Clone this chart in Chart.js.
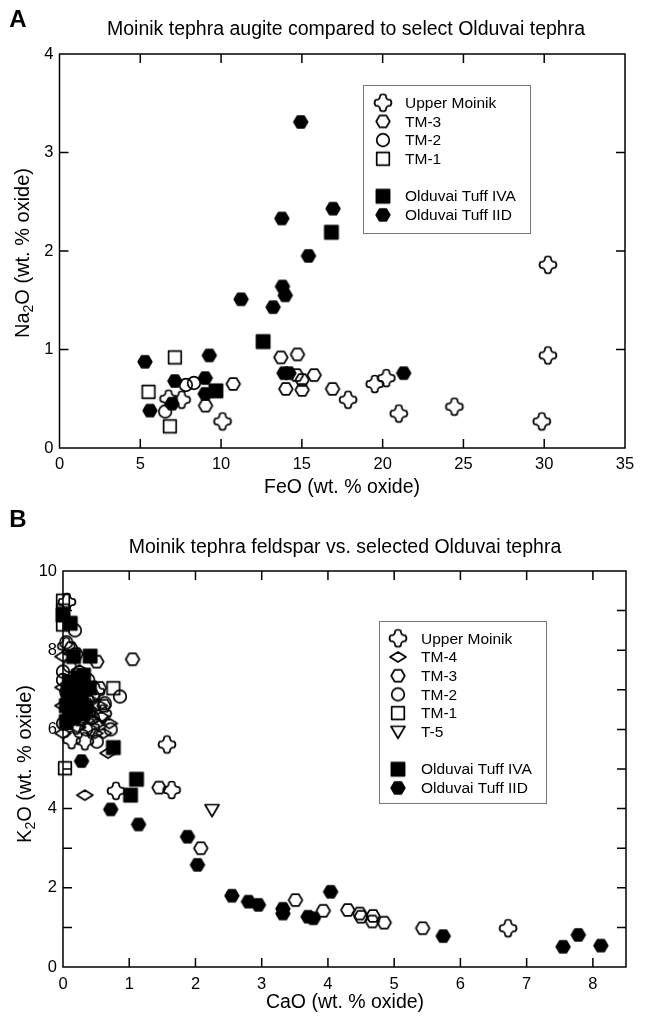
<!DOCTYPE html>
<html>
<head>
<meta charset="utf-8">
<script src="https://cdn.jsdelivr.net/npm/chart.js@4.4.1/dist/chart.umd.min.js"></script>
<style>
html, body { margin: 0; padding: 0; background: #fff; }
#wrapA { position: absolute; left: 0; top: 0; width: 645px; height: 500px; }
#wrapB { position: absolute; left: 0; top: 500px; width: 645px; height: 519px; }
</style>
</head>
<body>
<div id="wrapA"><canvas id="chartA"></canvas></div>
<div id="wrapB"><canvas id="chartB"></canvas></div>
<script>
// Panel A: augite, FeO (x) vs Na2O (y), wt. % oxide
var augUpperMoinik = [[6.75,0.5],[7.56,0.49],[10.09,0.27],[17.86,0.49],[19.51,0.65],[20.23,0.71],[21.0,0.35],[24.44,0.42],[29.85,0.27],[30.23,0.94],[30.23,1.86]];
var augTM3 = [[10.75,0.65],[9.04,0.43],[13.7,0.92],[14.73,0.95],[14.67,0.74],[15.02,0.69],[15.76,0.74],[14.01,0.6],[15.02,0.59],[16.9,0.6]];
var augTM2 = [[7.82,0.64],[8.32,0.66],[6.54,0.37]];
var augTM1 = [[7.14,0.92],[5.51,0.57],[6.83,0.22]];
var augTuffIVA = [[16.83,2.19],[12.6,1.08],[9.68,0.58]];
var augTuffIID = [[14.93,3.31],[16.93,2.43],[13.76,2.33],[15.41,1.95],[11.24,1.51],[13.8,1.64],[13.97,1.55],[13.22,1.43],[5.29,0.875],[9.27,0.94],[7.14,0.68],[9.02,0.71],[9.02,0.55],[6.96,0.45],[5.6,0.38],[13.9,0.76],[14.2,0.76],[21.3,0.76]];

// Panel B: feldspar, CaO (x) vs K2O (y), wt. % oxide
var fspUpperMoinik = [[0.06,9.22],[1.57,5.62],[1.64,4.47],[0.8,4.45],[6.72,0.98],[0.13,5.73],[0.33,5.7],[0.2,6.1],[0.42,6.05],[0.3,6.7],[0.12,7.1],[0.5,6.95],[0.05,8.1],[0.6,6.4]];
var fspTM4 = [[0.33,4.34],[0.68,5.4],[0.43,6.24],[0.58,6.32],[0.48,5.9],[0.61,5.9],[0.0,5.9],[0.0,7.84],[0.0,7.06],[0.22,6.05],[0.7,6.15],[0.35,6.5],[0.15,6.8],[0.55,6.6],[0.0,6.6],[0.25,7.5],[0.4,6.75],[0.52,6.15]];
var fspTM3 = [[1.05,7.77],[0.51,7.71],[1.45,4.53],[2.08,3.0],[3.51,1.69],[3.93,1.42],[4.3,1.44],[4.48,1.35],[4.5,1.27],[4.68,1.29],[4.67,1.15],[4.85,1.12],[5.43,0.98],[0.12,8.05],[0.3,7.35],[0.55,7.05],[0.4,6.45],[0.12,6.3],[0.62,6.6],[0.2,7.9],[0.08,6.9],[0.25,6.25],[0.45,6.85]];
var fspTM2 = [[0.18,8.5],[0.86,6.83],[0.63,6.66],[0.51,5.69],[0.0,6.15],[0.0,7.46],[0.05,8.2],[0.1,7.6],[0.3,7.1],[0.2,6.75],[0.45,6.3],[0.05,6.95],[0.72,6.0],[0.35,6.0],[0.0,7.25],[0.22,6.35],[0.38,7.25]];
var fspTM1 = [[0.0,9.25],[0.0,9.0],[0.0,8.65],[0.76,7.04],[0.03,5.02],[0.1,6.5],[0.22,7.0]];
var fspT5 = [[2.25,3.96]];
var fspTuffIVA = [[0.0,8.89],[0.11,8.68],[0.41,7.85],[0.16,7.84],[0.31,7.37],[0.76,5.54],[1.11,4.74],[1.02,4.34],[0.1,7.2],[0.2,6.9],[0.25,7.1],[0.05,6.6],[0.15,6.3],[0.35,6.55],[0.08,7.0],[0.18,6.6],[0.28,6.8],[0.05,6.2],[0.4,7.05],[0.12,6.45],[0.22,7.3],[0.3,6.4],[0.08,6.8]];
var fspTuffIID = [[0.28,5.2],[0.72,3.98],[1.14,3.6],[1.88,3.29],[2.03,2.58],[2.55,1.8],[2.8,1.65],[2.95,1.57],[3.32,1.47],[3.32,1.35],[4.04,1.9],[3.7,1.27],[3.78,1.23],[5.74,0.78],[7.55,0.51],[7.78,0.81],[8.12,0.54]];

var legendA = ['Upper Moinik', 'TM-3', 'TM-2', 'TM-1', '', 'Olduvai Tuff IVA', 'Olduvai Tuff IID'];
var legendB = ['Upper Moinik', 'TM-4', 'TM-3', 'TM-2', 'TM-1', 'T-5', '', 'Olduvai Tuff IVA', 'Olduvai Tuff IID'];

var FONT = "'Liberation Sans', Arial, Helvetica, sans-serif";

function makeMarker(kind, filled) {
  var s = 22;
  var c = document.createElement('canvas');
  c.width = s; c.height = s;
  var g = c.getContext('2d');
  g.translate(s / 2, s / 2);
  g.lineWidth = 1.7;
  g.strokeStyle = '#000';
  g.fillStyle = '#000';
  g.lineJoin = 'round';
  g.beginPath();
  if (kind == 'hex') {
    g.moveTo(-6.8, 0); g.lineTo(-3.4, -5.8); g.lineTo(3.4, -5.8);
    g.lineTo(6.8, 0); g.lineTo(3.4, 5.8); g.lineTo(-3.4, 5.8);
    g.closePath();
  } else if (kind == 'circle') {
    g.arc(0, 0, 6.3, 0, Math.PI * 2);
  } else if (kind == 'square') {
    if (filled) g.rect(-6.6, -6.6, 13.2, 13.2);
    else g.rect(-6.3, -6.3, 12.6, 12.6);
  } else if (kind == 'diamond') {
    g.moveTo(-8, 0); g.lineTo(0, -5); g.lineTo(8, 0); g.lineTo(0, 5);
    g.closePath();
  } else if (kind == 'tri') {
    g.moveTo(-7, -5.5); g.lineTo(7, -5.5); g.lineTo(0, 6.5);
    g.closePath();
  } else if (kind == 'star4') {
    var r = 8, w = 2.8;
    g.moveTo(-w, -r + 0.5);
    g.quadraticCurveTo(0, -r - 1.5, w, -r + 0.5);
    g.quadraticCurveTo(w, -w, r - 0.5, -w);
    g.quadraticCurveTo(r + 1.5, 0, r - 0.5, w);
    g.quadraticCurveTo(w, w, w, r - 0.5);
    g.quadraticCurveTo(0, r + 1.5, -w, r - 0.5);
    g.quadraticCurveTo(-w, w, -r + 0.5, w);
    g.quadraticCurveTo(-r - 1.5, 0, -r + 0.5, -w);
    g.quadraticCurveTo(-w, -w, -w, -r + 0.5);
    g.closePath();
  }
  if (filled) { g.fill(); g.stroke(); } else g.stroke();
  return c;
}

var mk = {
  star: makeMarker('star4', false),
  diamond: makeMarker('diamond', false),
  hexOpen: makeMarker('hex', false),
  circle: makeMarker('circle', false),
  square: makeMarker('square', false),
  tri: makeMarker('tri', false),
  squareFill: makeMarker('square', true),
  hexFill: makeMarker('hex', true)
};

function pts(arr) {
  return arr.map(function(p) { return { x: p[0], y: p[1] }; });
}

function ds(label, arr, img) {
  return { label: label, data: pts(arr), pointStyle: img, pointRadius: 8, pointHoverRadius: 8, clip: false };
}

function drawSubTitle(ctx, parts, cx, cy, size, rotate) {
  ctx.save();
  ctx.translate(cx, cy);
  if (rotate) ctx.rotate(-Math.PI / 2);
  var big = size + 'px ' + FONT, small = Math.round(size * 0.72) + 'px ' + FONT;
  ctx.font = big;
  var w1 = ctx.measureText(parts[0]).width, w3 = ctx.measureText(parts[2]).width;
  ctx.font = small;
  var w2 = ctx.measureText(parts[1]).width;
  var x = -(w1 + w2 + w3) / 2;
  ctx.textBaseline = 'middle';
  ctx.textAlign = 'left';
  ctx.fillStyle = '#000';
  ctx.font = big; ctx.fillText(parts[0], x, 0);
  ctx.font = small; ctx.fillText(parts[1], x + w1, size * 0.32);
  ctx.font = big; ctx.fillText(parts[2], x + w1 + w2, 0);
  ctx.restore();
}

function decor(cfg) {
  return {
    id: 'decor' + cfg.letter,
    beforeDatasetsDraw: function(chart) {
      var ctx = chart.ctx, a = chart.chartArea;
      var xs = chart.scales.x, ys = chart.scales.y;
      ctx.save();
      ctx.strokeStyle = '#000';
      ctx.lineWidth = 1.5;
      ctx.strokeRect(a.left, a.top, a.right - a.left, a.bottom - a.top);
      ctx.beginPath();
      xs.ticks.forEach(function(t) {
        var px = xs.getPixelForValue(t.value);
        if (px < a.left + 2 || px > a.right - 2) return;
        ctx.moveTo(px, a.bottom); ctx.lineTo(px, a.bottom - cfg.tick);
        ctx.moveTo(px, a.top); ctx.lineTo(px, a.top + cfg.tick);
      });
      ys.ticks.forEach(function(t) {
        var py = ys.getPixelForValue(t.value);
        if (py < a.top + 2 || py > a.bottom - 2) return;
        ctx.moveTo(a.left, py); ctx.lineTo(a.left + cfg.tick, py);
        ctx.moveTo(a.right, py); ctx.lineTo(a.right - cfg.tick, py);
      });
      ctx.stroke();
      ctx.restore();
    },
    afterDraw: function(chart) {
      var ctx = chart.ctx;
      ctx.save();
      ctx.fillStyle = '#000';
      ctx.textBaseline = 'middle';
      ctx.textAlign = 'center';
      ctx.font = 'bold 24px ' + FONT;
      ctx.fillText(cfg.letter, cfg.letterPos[0], cfg.letterPos[1]);
      ctx.font = '19.5px ' + FONT;
      ctx.fillText(cfg.title, cfg.titlePos[0], cfg.titlePos[1]);
      ctx.font = '19.5px ' + FONT;
      ctx.fillText(cfg.xTitle, cfg.xTitlePos[0], cfg.xTitlePos[1]);
      drawSubTitle(ctx, cfg.yTitle, cfg.yTitlePos[0], cfg.yTitlePos[1], 20, true);

      // legend box
      var L = cfg.legend;
      ctx.strokeStyle = '#777';
      ctx.lineWidth = 1;
      ctx.strokeRect(L.box[0] + 0.5, L.box[1] + 0.5, L.box[2] - L.box[0], L.box[3] - L.box[1]);
      ctx.font = '15.5px ' + FONT;
      ctx.textAlign = 'left';
      L.labels.forEach(function(lab, i) {
        if (!lab) return;
        var y = L.y0 + i * L.step;
        var img = L.icons[i];
        ctx.drawImage(img, L.symX - img.width / 2, y - img.height / 2);
        ctx.fillText(lab, L.textX, y + 1);
      });
      ctx.restore();
    }
  };
}

function scaleOpts(min, max, step, pad, fit, cb) {
  var o = {
    type: 'linear', min: min, max: max,
    grid: { display: false, drawTicks: false },
    border: { display: false },
    ticks: { stepSize: step, padding: pad, color: '#000', autoSkip: false, maxRotation: 0, includeBounds: false, font: { family: FONT, size: 16.5 } },
    afterFit: fit
  };
  if (cb) o.ticks.callback = cb;
  return o;
}

var chartA = new Chart(document.getElementById('chartA'), {
  type: 'scatter',
  data: {
    datasets: [
      ds('Olduvai Tuff IVA', augTuffIVA, mk.squareFill),
      ds('Olduvai Tuff IID', augTuffIID, mk.hexFill),
      ds('Upper Moinik', augUpperMoinik, mk.star),
      ds('TM-3', augTM3, mk.hexOpen),
      ds('TM-2', augTM2, mk.circle),
      ds('TM-1', augTM1, mk.square)
    ]
  },
  options: {
    responsive: true,
    maintainAspectRatio: false,
    animation: false,
    layout: { padding: { left: 0, right: 20, top: 54, bottom: 22 } },
    plugins: { legend: { display: false }, tooltip: { enabled: false } },
    scales: {
      x: scaleOpts(0, 35, 5, 7, function(s) { s.height = 30; }),
      y: scaleOpts(0, 4, 1, 6, function(s) { s.width = 59.5; })
    }
  },
  plugins: [decor({
    letter: 'A', letterPos: [18, 20], tick: 9,
    title: 'Moinik tephra augite compared to select Olduvai tephra', titlePos: [346, 30],
    xTitle: 'FeO (wt. % oxide)', xTitlePos: [342, 488],
    yTitle: ['Na', '2', 'O (wt. % oxide)'], yTitlePos: [23, 253],
    legend: {
      box: [363, 85, 530, 233], y0: 102.7, step: 18.7, symX: 383, textX: 405,
      labels: legendA,
      icons: [mk.star, mk.hexOpen, mk.circle, mk.square, null, mk.squareFill, mk.hexFill]
    }
  })]
});

var chartB = new Chart(document.getElementById('chartB'), {
  type: 'scatter',
  data: {
    datasets: [
      ds('Olduvai Tuff IVA', fspTuffIVA, mk.squareFill),
      ds('Olduvai Tuff IID', fspTuffIID, mk.hexFill),
      ds('Upper Moinik', fspUpperMoinik, mk.star),
      ds('TM-4', fspTM4, mk.diamond),
      ds('TM-3', fspTM3, mk.hexOpen),
      ds('TM-2', fspTM2, mk.circle),
      ds('TM-1', fspTM1, mk.square),
      ds('T-5', fspT5, mk.tri)
    ]
  },
  options: {
    responsive: true,
    maintainAspectRatio: false,
    animation: false,
    layout: { padding: { left: 0, right: 19, top: 71, bottom: 22 } },
    plugins: { legend: { display: false }, tooltip: { enabled: false } },
    scales: {
      x: scaleOpts(0, 8.5, 1, 8, function(s) { s.height = 30; }),
      y: scaleOpts(0, 10, 1, 6, function(s) { s.width = 63; }, function(v) { return v % 2 === 0 ? v : ''; })
    }
  },
  plugins: [decor({
    letter: 'B', letterPos: [18, 20], tick: 9,
    title: 'Moinik tephra feldspar vs. selected Olduvai tephra', titlePos: [345, 48],
    xTitle: 'CaO (wt. % oxide)', xTitlePos: [345, 503],
    yTitle: ['K', '2', 'O (wt. % oxide)'], yTitlePos: [25, 264],
    legend: {
      box: [379, 121, 546, 303], y0: 138.3, step: 18.7, symX: 398, textX: 421,
      labels: legendB,
      icons: [mk.star, mk.diamond, mk.hexOpen, mk.circle, mk.square, mk.tri, null, mk.squareFill, mk.hexFill]
    }
  })]
});
</script>
</body>
</html>
